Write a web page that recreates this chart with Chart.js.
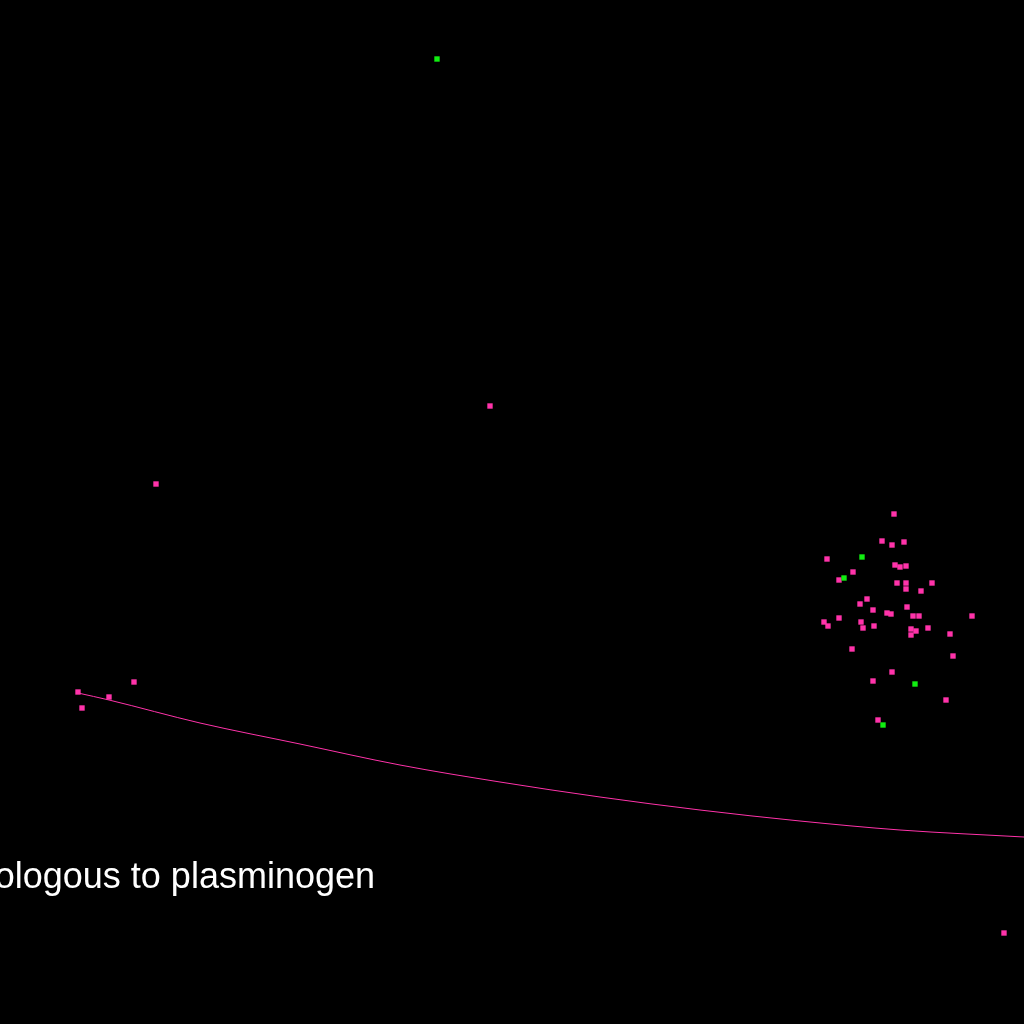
<!DOCTYPE html>
<html>
<head>
<meta charset="utf-8">
<script src="https://cdn.jsdelivr.net/npm/chart.js@4/dist/chart.umd.min.js"></script>
<style>
html,body{margin:0;padding:0;background:#000;}
#wrap{width:1024px;height:1024px;position:relative;}
</style>
</head>
<body>
<div id="wrap"><canvas id="c" width="1024" height="1024"></canvas></div>
<script>
// Pink (main) series values
const pinkX = [894,882,892,904,827,853,839,895,900,906,897,906,932,906,921,867,860,873,907,887,891,913,919,972,839,824,828,861,863,874,911,916,911,928,950,852,953,892,873,946,878,490,156,134,78,82,109,1004];
const pinkY = [510,483,479,482,465,452,444,459,457,458,441,441,441,435,433,425,420,414,417,411,410,408,408,408,406,402,398,402,396,398,395,393,389,396,390,375,368,352,343,324,304,618,540,342,332,316,327,91];
// Green series values
const greenX = [437,862,844,915,883];
const greenY = [965,467,446,340,299];
// Fitted curve
const curveX = [78,109,200,300,400,500,600,700,800,900,1024];
const curveY = [331,324,301,280,259,242,227,214,203,194,187];
const labelText = 'ologous to plasminogen';

const PINK = '#ff33aa';
const GREEN = '#11ee11';

const toPts = (xs, ys) => xs.map((x, i) => ({x: x, y: ys[i]}));

const textPlugin = {
  id: 'label',
  afterDatasetsDraw(chart) {
    const ctx = chart.ctx;
    ctx.save();
    ctx.fillStyle = '#ffffff';
    ctx.font = '36px "Liberation Sans", Arial, sans-serif';
    ctx.textAlign = 'right';
    ctx.textBaseline = 'alphabetic';
    const xs = chart.scales.x, ys = chart.scales.y;
    ctx.fillText(labelText, xs.getPixelForValue(375), ys.getPixelForValue(136));
    ctx.restore();
  }
};

new Chart(document.getElementById('c'), {
  type: 'scatter',
  data: {
    datasets: [
      {
        type: 'line',
        data: toPts(curveX, curveY),
        borderColor: PINK,
        borderWidth: 1,
        pointRadius: 0,
        fill: false,
        cubicInterpolationMode: 'monotone',
        order: 3
      },
      {
        data: toPts(pinkX, pinkY),
        backgroundColor: PINK,
        borderWidth: 0,
        pointStyle: 'rect',
        pointRadius: 3.8,
        order: 2
      },
      {
        data: toPts(greenX, greenY),
        backgroundColor: GREEN,
        borderWidth: 0,
        pointStyle: 'rect',
        pointRadius: 3.8,
        order: 1
      }
    ]
  },
  options: {
    responsive: false,
    animation: false,
    layout: {padding: 0, autoPadding: false},
    plugins: {legend: {display: false}, tooltip: {enabled: false}},
    scales: {
      x: {type: 'linear', min: 0, max: 1024, display: false},
      y: {type: 'linear', min: 0, max: 1024, display: false}
    }
  },
  plugins: [textPlugin]
});
</script>
</body>
</html>
